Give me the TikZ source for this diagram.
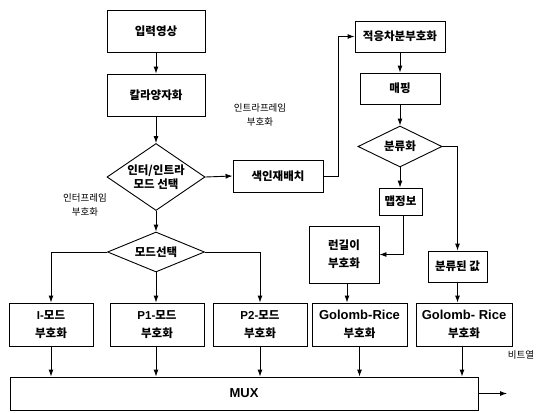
\documentclass[tikz,border=0pt]{standalone}
\usepackage{fontspec}
\setmainfont{Noto Sans CJK KR}
\newfontfamily\lat{Liberation Sans}
\newcommand\grfont{\lat\bfseries\fontsize{13}{16}\selectfont}
\usetikzlibrary{arrows.meta,shapes.geometric}
\tikzset{
  box/.style={draw, line width=0.9pt, rectangle, inner sep=0pt, align=center,
    font=\bfseries\fontsize{11.5}{18}\selectfont},
  dia/.style={draw, line width=0.9pt, diamond, inner sep=0pt, align=center,
    font=\bfseries\fontsize{11.5}{14}\selectfont},
  arr/.style={line width=0.9pt, -{Latex[length=7pt,width=5pt]}},
  lbl/.style={align=center, font=\fontsize{9.5}{14}\selectfont}
}
\begin{document}
\begin{tikzpicture}[x=1pt,y=-1pt]
\useasboundingbox (0,0) rectangle (545,412);
% left column
\node[box, minimum width=98, minimum height=42] (in) at (156,31) {입력영상};
\node[box, minimum width=98, minimum height=42] (cq) at (156,95) {칼라양자화};
\node[dia, minimum width=98, minimum height=67, aspect=1.46] (d1) at (156,177) {인터/인트라\\모드 선택};
\node[dia, minimum width=97, minimum height=40, aspect=2.4] (d3) at (156,252) {모드선택};
\node[box, minimum width=84, minimum height=43] (im) at (51,324.5) {{\lat\bfseries I-}모드\\부호화};
\node[box, minimum width=94, minimum height=43] (p1) at (157,324.5) {{\lat\bfseries P1-}모드\\부호화};
\node[box, minimum width=94, minimum height=43] (p2) at (260,324.5) {{\lat\bfseries P2-}모드\\부호화};
% right part
\node[box, minimum width=90, minimum height=32] (ci) at (278,176) {색인재배치};
\node[box, minimum width=90, minimum height=31] (ad) at (400,36.5) {적응차분부호화};
\node[box, minimum width=80, minimum height=31] (mp) at (400,88.5) {매핑};
\node[dia, minimum width=84, minimum height=41, aspect=2.05] (d2) at (400,146.5) {분류화};
\node[box, minimum width=43, minimum height=27] (mi) at (400.5,201.5) {맵정보};
\node[box, minimum width=70, minimum height=57] (rl) at (344,254.5) {런길이\\부호화};
\node[box, minimum width=59, minimum height=31] (cv) at (457.5,266.5) {분류된 값};
\node[box, minimum width=95, minimum height=43] (g1) at (359.5,324.5) {{\grfont Golomb-Rice}\\부호화};
\node[box, minimum width=96, minimum height=43] (g2) at (464,324.5) {{\grfont Golomb- Rice}\\부호화};
\node[box, minimum width=468, minimum height=33] (mux) at (244,393.5) {{\grfont MUX}};
\coordinate (out) at (507,393.5);
% labels
\node[lbl] (lintra) at (260,115) {인트라프레임\\부호화};
\node[lbl] (linter) at (85,205) {인터프레임\\부호화};
\node[lbl] (lbit) at (521,355) {비트열};
% connectors
\draw[arr] (in.south) -- (cq.north);
\draw[arr] (cq.south) -- (d1.north);
\draw[arr] (d1.east) -- (ci.west);
\draw[arr] (ci.east) -- ++(15,0) |- (ad.west);
\draw[arr] (ad.south) -- (mp.north);
\draw[arr] (mp.south) -- (d2.north);
\draw[arr] (d2.south) -- (d2.south |- mi.north);
\draw[arr] (d2.east) -| (cv.north);
\draw[arr] ([xshift=3pt]mi.south) |- (rl.east);
\draw[arr] ([xshift=3pt]rl.south) -- ([xshift=3pt]rl.south |- g1.north);
\draw[arr] (cv.south) -- (cv.south |- g2.north);
\draw[arr] (g1.south) -- (g1.south |- mux.north);
\draw[arr] ([xshift=-2pt]g2.south) -- ([xshift=-2pt]g2.south |- mux.north);
\draw[arr] (d1.south) -- (d3.north);
\draw[arr] (d3.west) -| (im.north);
\draw[arr] (d3.east) -| (p2.north);
\draw[arr] (d3.south) -- (d3.south |- p1.north);
\draw[arr] (im.south) -- (im.south |- mux.north);
\draw[arr] ([xshift=-1pt]p1.south) -- ([xshift=-1pt]p1.south |- mux.north);
\draw[arr] (p2.south) -- (p2.south |- mux.north);
\draw[arr] (mux.east) -- (out);
\end{tikzpicture}
\end{document}
